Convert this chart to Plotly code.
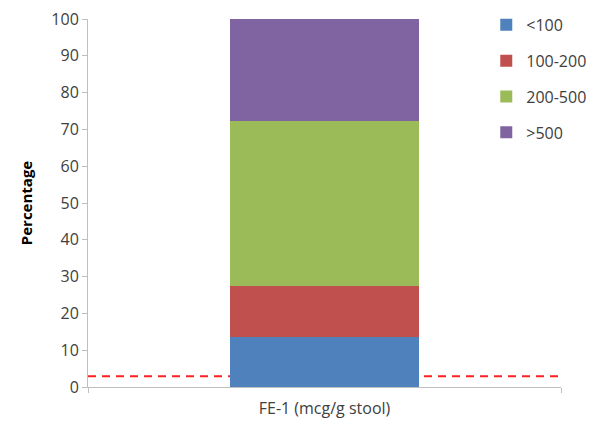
import plotly.graph_objects as go

categories = ["FE-1 (mcg/g stool)"]
series_names = ["<100", "100-200", "200-500", ">500"]
series_values = [[13.7], [13.7], [45.0], [27.6]]
series_colors = ["#4F81BD", "#C0504D", "#9BBB59", "#8064A2"]
reference_level = 2.9
y_ticks = [0, 10, 20, 30, 40, 50, 60, 70, 80, 90, 100]

fig = go.Figure()
for name, vals, col in zip(series_names, series_values, series_colors):
    fig.add_trace(go.Bar(x=categories, y=vals, name=name, marker_color=col,
                         marker_line_width=0, legendgroup=name))

fig.add_shape(type="line", xref="paper", yref="y", x0=0, x1=1,
              y0=reference_level, y1=reference_level,
              line=dict(color="#FF2020", width=2, dash="8px,6px"), layer="below")

font = "'Open Sans', sans-serif"
fig.update_layout(
    width=602, height=425,
    margin=dict(l=80, r=49, t=11, b=46, autoexpand=False),
    barmode="stack", bargap=0.6,
    paper_bgcolor="white", plot_bgcolor="white",
    font=dict(family=font, size=16, color="#404040"),
    legend=dict(x=0.842, y=1.03, xanchor="left", yanchor="top",
                traceorder="grouped", tracegroupgap=12,
                font=dict(size=16, color="#404040"), bgcolor="rgba(0,0,0,0)"),
    xaxis=dict(showline=True, linecolor="#BFBFBF", linewidth=1, automargin=False,
               ticks="outside", tickson="boundaries", ticklen=5, tickcolor="#BFBFBF",
               showgrid=False, tickfont=dict(size=16), ticklabelstandoff=7,
               ticklabeloverflow="allow"),
    yaxis=dict(range=[0, 100], tickvals=y_ticks, showline=True, linecolor="#BFBFBF",
               linewidth=1, ticks="outside", ticklen=5, tickcolor="#BFBFBF",
               showgrid=False, zeroline=False, tickfont=dict(size=16), automargin=False,
               ticklabeloverflow="allow",
               title=dict(text="<b>Percentage</b>", font=dict(size=15, color="#000000"))),
)
fig.write_html("out.html")
